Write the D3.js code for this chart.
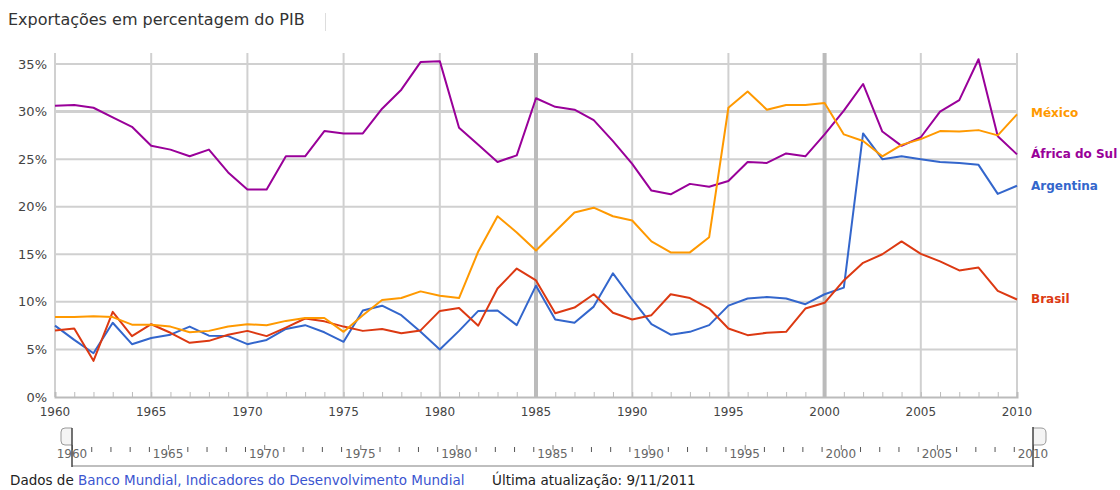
<!DOCTYPE html>
<html>
<head>
<meta charset="utf-8">
<script src="https://cdn.jsdelivr.net/npm/d3@7"></script>
<style>
  body { margin: 0; background: #fff; }
  svg { display: block; font-family: "DejaVu Sans", sans-serif; }
</style>
</head>
<body>
<svg id="chart" width="1120" height="490"></svg>
<script>
// anos e valores (% do PIB)
var years = d3.range(1960, 2011);
var mexico = [8.4, 8.4, 8.5, 8.4, 7.6, 7.6, 7.4, 6.8, 6.95, 7.4, 7.65, 7.55, 8.0, 8.3, 8.3, 6.85, 8.6, 10.2, 10.4, 11.1,
    10.65, 10.4, 15.3, 19.0, 17.3, 15.4, 17.4, 19.4, 19.9, 19.0, 18.55, 16.35, 15.2, 15.2, 16.8, 30.4, 32.1, 30.2, 30.7, 30.7,
    30.9, 27.6, 26.9, 25.3, 26.5, 27.1, 27.95, 27.9, 28.05, 27.5, 29.7];
var africa = [30.6, 30.7, 30.4, 29.4, 28.4, 26.4, 26.0, 25.3, 26.0, 23.6, 21.8, 21.8, 25.3, 25.3, 27.95, 27.7, 27.7, 30.3, 32.3, 35.2,
    35.3, 28.3, 26.5, 24.7, 25.4, 31.4, 30.5, 30.2, 29.1, 26.9, 24.5, 21.7, 21.3, 22.4, 22.1, 22.7, 24.7, 24.6, 25.6, 25.3,
    27.6, 30.1, 32.9, 27.9, 26.4, 27.3, 30.0, 31.2, 35.5, 27.4, 25.5];
var argentina = [7.5, 6.0, 4.6, 7.8, 5.55, 6.2, 6.55, 7.4, 6.45, 6.4, 5.55, 6.0, 7.15, 7.55, 6.8, 5.8, 9.1, 9.6, 8.6, 6.85,
    5.0, 6.95, 9.05, 9.1, 7.55, 11.7, 8.15, 7.8, 9.5, 13.0, 10.25, 7.65, 6.55, 6.85, 7.55, 9.6, 10.35, 10.5, 10.35, 9.75,
    10.8, 11.5, 27.7, 25.0, 25.3, 25.0, 24.7, 24.6, 24.4, 21.35, 22.2];
var brasil = [7.0, 7.2, 3.8, 8.95, 6.4, 7.65, 6.75, 5.7, 5.9, 6.55, 6.95, 6.4, 7.3, 8.25, 7.95, 7.4, 6.95, 7.15, 6.7, 7.0,
    9.05, 9.35, 7.5, 11.4, 13.5, 12.25, 8.8, 9.4, 10.8, 8.85, 8.15, 8.6, 10.8, 10.4, 9.3, 7.2, 6.5, 6.75, 6.85, 9.3,
    9.9, 12.25, 14.1, 15.0, 16.35, 15.05, 14.25, 13.3, 13.6, 11.15, 10.25];
var seriesNames = ["Argentina", "Brasil", "África do Sul", "México"];
var seriesValues = [argentina, brasil, africa, mexico];
var seriesColors = ["#3366cc", "#dc3912", "#990099", "#ff9900"];
var yTicks = [0, 5, 10, 15, 20, 25, 30, 35];
var xTicks = d3.range(1960, 2011, 5);

var svg = d3.select("#chart");
var x = d3.scaleLinear().domain([1960, 2010]).range([55, 1017]);
var y = d3.scaleLinear().domain([0, 35]).range([397, 64]);
var top_y = 53;

// titulo
svg.append("text")
    .attr("x", 8).attr("y", 25)
    .attr("font-size", 16).attr("fill", "#333")
    .text("Exportações em percentagem do PIB");
svg.append("line")
    .attr("x1", 325.5).attr("x2", 325.5).attr("y1", 13).attr("y2", 31)
    .attr("stroke", "#ddd");

// grade
svg.append("g").selectAll("line").data(yTicks.slice(1)).join("line")
    .attr("x1", x(1960)).attr("x2", x(2010))
    .attr("y1", d => y(d)).attr("y2", d => y(d))
    .attr("stroke", "#d0d0d0")
    .attr("stroke-width", d => d == 30 ? 3 : 2);
svg.append("g").selectAll("line").data(xTicks).join("line")
    .attr("x1", d => x(d)).attr("x2", d => x(d))
    .attr("y1", top_y).attr("y2", y(0))
    .attr("stroke", d => (d == 1985 || d == 2000) ? "#bbb" : "#d0d0d0")
    .attr("stroke-width", d => (d == 1985 || d == 2000) ? 4 : 2);

// eixo inferior com marcas de cada ano
var xAxis = svg.append("g").attr("transform", "translate(0," + y(0) + ")")
    .call(d3.axisTop(x).tickValues(years).tickSize(5).tickFormat(""));
xAxis.select(".domain").attr("stroke", "#bbb").attr("stroke-width", 2);
xAxis.selectAll(".tick line").attr("stroke", "#bbb");

svg.append("g").selectAll("text").data(xTicks).join("text")
    .attr("x", d => x(d)).attr("y", 416)
    .attr("text-anchor", "middle")
    .attr("font-size", 12).attr("fill", "#444")
    .text(d => d);

svg.append("g").selectAll("text").data(yTicks).join("text")
    .attr("x", 47).attr("y", d => y(d) + 4.5)
    .attr("text-anchor", "end")
    .attr("font-size", 13).attr("fill", "#444")
    .text(d => d + "%");

// linhas
var line = d3.line()
    .x((d, i) => x(years[i]))
    .y(d => y(d));
for (var i = 0; i < seriesValues.length; i++) {
    svg.append("path")
        .datum(seriesValues[i])
        .attr("d", line)
        .attr("fill", "none")
        .attr("stroke", seriesColors[i])
        .attr("stroke-width", 2)
        .attr("stroke-linejoin", "round");
}

// rotulos das series
var labelY = {"México": 116.5, "África do Sul": 157.5, "Argentina": 189.5, "Brasil": 303};
for (var i = 0; i < seriesNames.length; i++) {
    svg.append("text")
        .attr("x", 1031).attr("y", labelY[seriesNames[i]])
        .attr("font-size", 12).attr("font-weight", "bold")
        .attr("fill", seriesColors[i])
        .text(seriesNames[i]);
}

// barra de tempo
var sx = d3.scaleLinear().domain([1960, 2010]).range([72, 1033]);
svg.append("line")
    .attr("x1", sx(1960)).attr("x2", sx(2010)).attr("y1", 466).attr("y2", 466)
    .attr("stroke", "#aaa").attr("stroke-width", 1.5);
svg.append("g").selectAll("line").data(years.filter(d => d % 5 != 0)).join("line")
    .attr("x1", d => sx(d) + 0.5).attr("x2", d => sx(d) + 0.5)
    .attr("y1", 447).attr("y2", 452)
    .attr("stroke", "#555");
svg.append("g").selectAll("line").data(xTicks).join("line")
    .attr("x1", d => sx(d) + 0.5).attr("x2", d => sx(d) + 0.5)
    .attr("y1", 445).attr("y2", 450)
    .attr("stroke", "#777");
svg.append("g").selectAll("text").data(xTicks).join("text")
    .attr("x", d => sx(d)).attr("y", 458)
    .attr("text-anchor", "middle")
    .attr("font-size", 12).attr("fill", "#666")
    .text(d => d);

// alcas
svg.append("path")
    .attr("d", "M" + sx(1960) + ",428 H65 Q61,428 61,432 V441 Q61,445 65,445 H" + sx(1960))
    .attr("fill", "#f4f4f4").attr("stroke", "#999");
svg.append("line")
    .attr("x1", sx(1960)).attr("x2", sx(1960)).attr("y1", 428).attr("y2", 467)
    .attr("stroke", "#444").attr("stroke-width", 1.5);
svg.append("path")
    .attr("d", "M" + sx(2010) + ",428 H1041 Q1046,428 1046,433 V440 Q1046,445 1041,445 H" + sx(2010))
    .attr("fill", "#f4f4f4").attr("stroke", "#999");
svg.append("line")
    .attr("x1", sx(2010)).attr("x2", sx(2010)).attr("y1", 427).attr("y2", 467)
    .attr("stroke", "#444").attr("stroke-width", 1.5);

// rodape
var foot = svg.append("text").attr("x", 10).attr("y", 485).attr("font-size", 13.5).attr("fill", "#222");
foot.append("tspan").text("Dados de ");
foot.append("tspan").attr("fill", "#3b55d0").text("Banco Mundial, Indicadores do Desenvolvimento Mundial");
svg.append("text").attr("x", 492).attr("y", 485).attr("font-size", 13.5).attr("fill", "#222")
    .text("Última atualização: 9/11/2011");
</script>
</body>
</html>
